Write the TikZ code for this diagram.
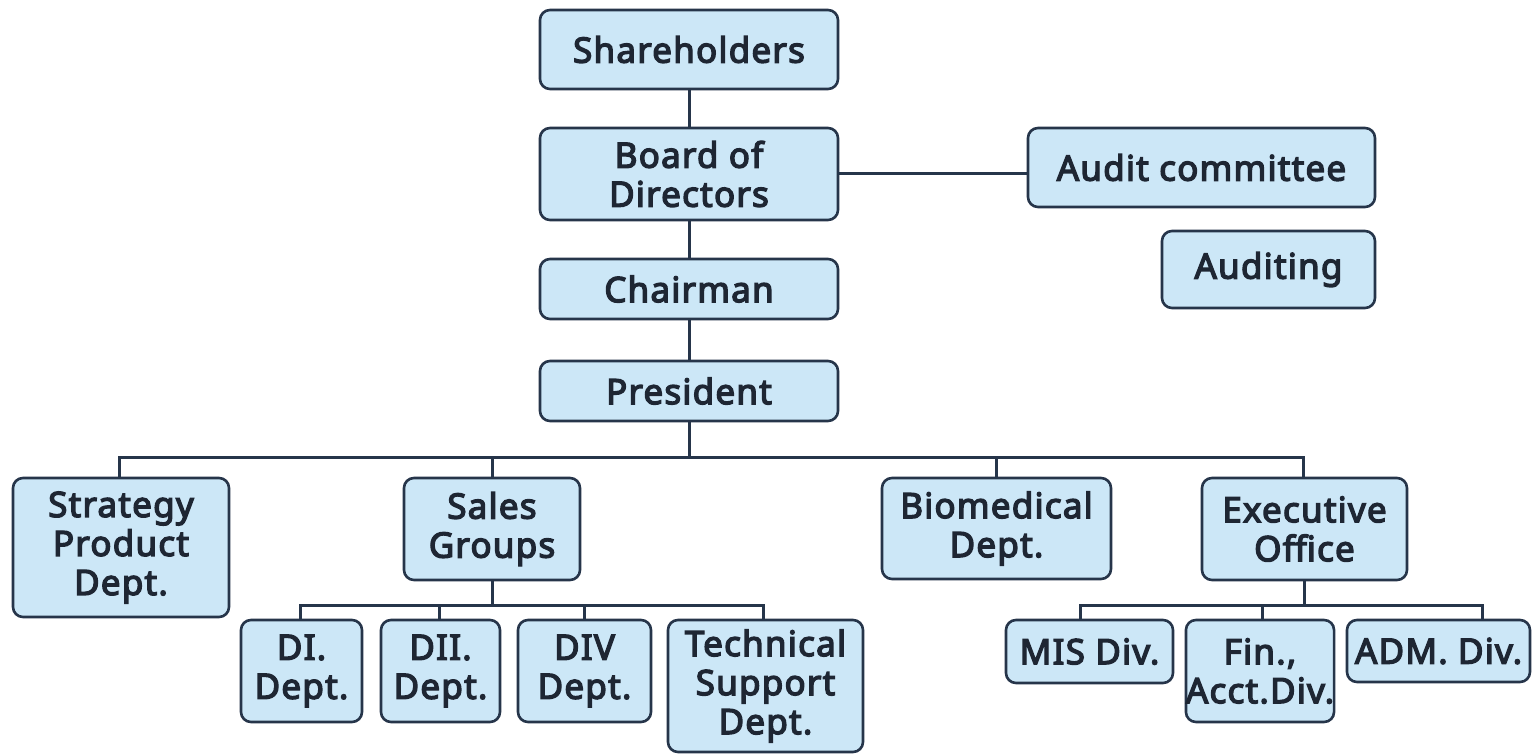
\documentclass[tikz,border=0pt]{standalone}
\usepackage{fontspec}
\setmainfont{Noto Sans}[AutoFakeBold=3.8, LetterSpace=3.5]
\definecolor{boxfill}{HTML}{CCE7F7}
\definecolor{boxline}{HTML}{26354A}
\definecolor{txt}{HTML}{1E2633}
\tikzset{
  orgbox/.style={draw=boxline, fill=boxfill, line width=2.6pt, rounded corners=10pt,
    inner sep=0pt, outer sep=0pt, align=center, text=txt,
    font=\fontsize{35}{39}\selectfont\bfseries},
  link/.style={draw=boxline, line width=3pt}
}
\newcommand{\ob}[6]{\node[orgbox, minimum width=#4pt, minimum height=#5pt] (#1) at (#2,#3) {#6};}
\begin{document}
\begin{tikzpicture}[x=1pt,y=-1pt]
\useasboundingbox[fill=white] (0,0) rectangle (1532,754);
\coordinate (pb) at (689,457);
\coordinate (sb) at (492,605);
\coordinate (eb) at (1304.5,605);
% boxes
\ob{sh}{689}{49.5}{298}{79}{Shareholders}
\ob{bd}{689}{174}{298}{92}{Board of\\Directors}
\ob{ch}{689}{289}{298}{60}{Chairman}
\ob{pr}{689}{391}{298}{60}{President}
\ob{au}{1201.5}{167.5}{347}{79}{Audit committee}
\ob{ad}{1268.5}{269.5}{213}{77}{Auditing}
\ob{sp}{121}{547.5}{216}{139}{Strategy\\Product\\Dept.}
\ob{sg}{492}{529}{176}{102}{Sales\\Groups}
\ob{bm}{996.5}{528.5}{229}{101}{Biomedical\\Dept.}
\ob{ex}{1304.5}{529}{205}{102}{Executive\\Office}
\ob{da}{301.5}{671}{121}{102}{DI.\\Dept.}
\ob{db}{440.5}{671}{119}{102}{DII.\\Dept.}
\ob{dc}{584.5}{671}{133}{102}{DIV\\Dept.}
\ob{ts}{765.5}{686}{195}{132}{Technical\\Support\\Dept.}
\ob{mis}{1089.5}{651.5}{167}{63}{MIS Div.}
\ob{fin}{1260}{671}{148}{102}{Fin.,\\Acct.Div.}
\ob{adm}{1438.5}{651}{183}{62}{ADM. Div.}
% links
\path[link] (sh.south) -- (bd.north);
\path[link] (bd.south) -- (ch.north);
\path[link] (ch.south) -- (pr.north);
\path[link] (bd.east) -- (bd.east -| au.west);
\path[link] (pr.south) -- (pb);
\path[link] (pb) -| ([xshift=-2pt]sp.north);
\path[link] (pb) -| (sg.north);
\path[link] (pb) -| (bm.north);
\path[link] (pb) -| ([xshift=-1pt]ex.north);
\path[link] (sg.south) -- (sb);
\path[link] (sb) -| ([xshift=-1pt]da.north);
\path[link] (sb) -| ([xshift=-1pt]db.north);
\path[link] (sb) -| (dc.north);
\path[link] (sb) -| ([xshift=-2pt]ts.north);
\path[link] (ex.south) -- (eb);
\path[link] (eb) -| ([xshift=-9.5pt]mis.north);
\path[link] (eb) -| ([xshift=2pt]fin.north);
\path[link] (eb) -| ([xshift=43.5pt]adm.north);
\end{tikzpicture}
\end{document}
